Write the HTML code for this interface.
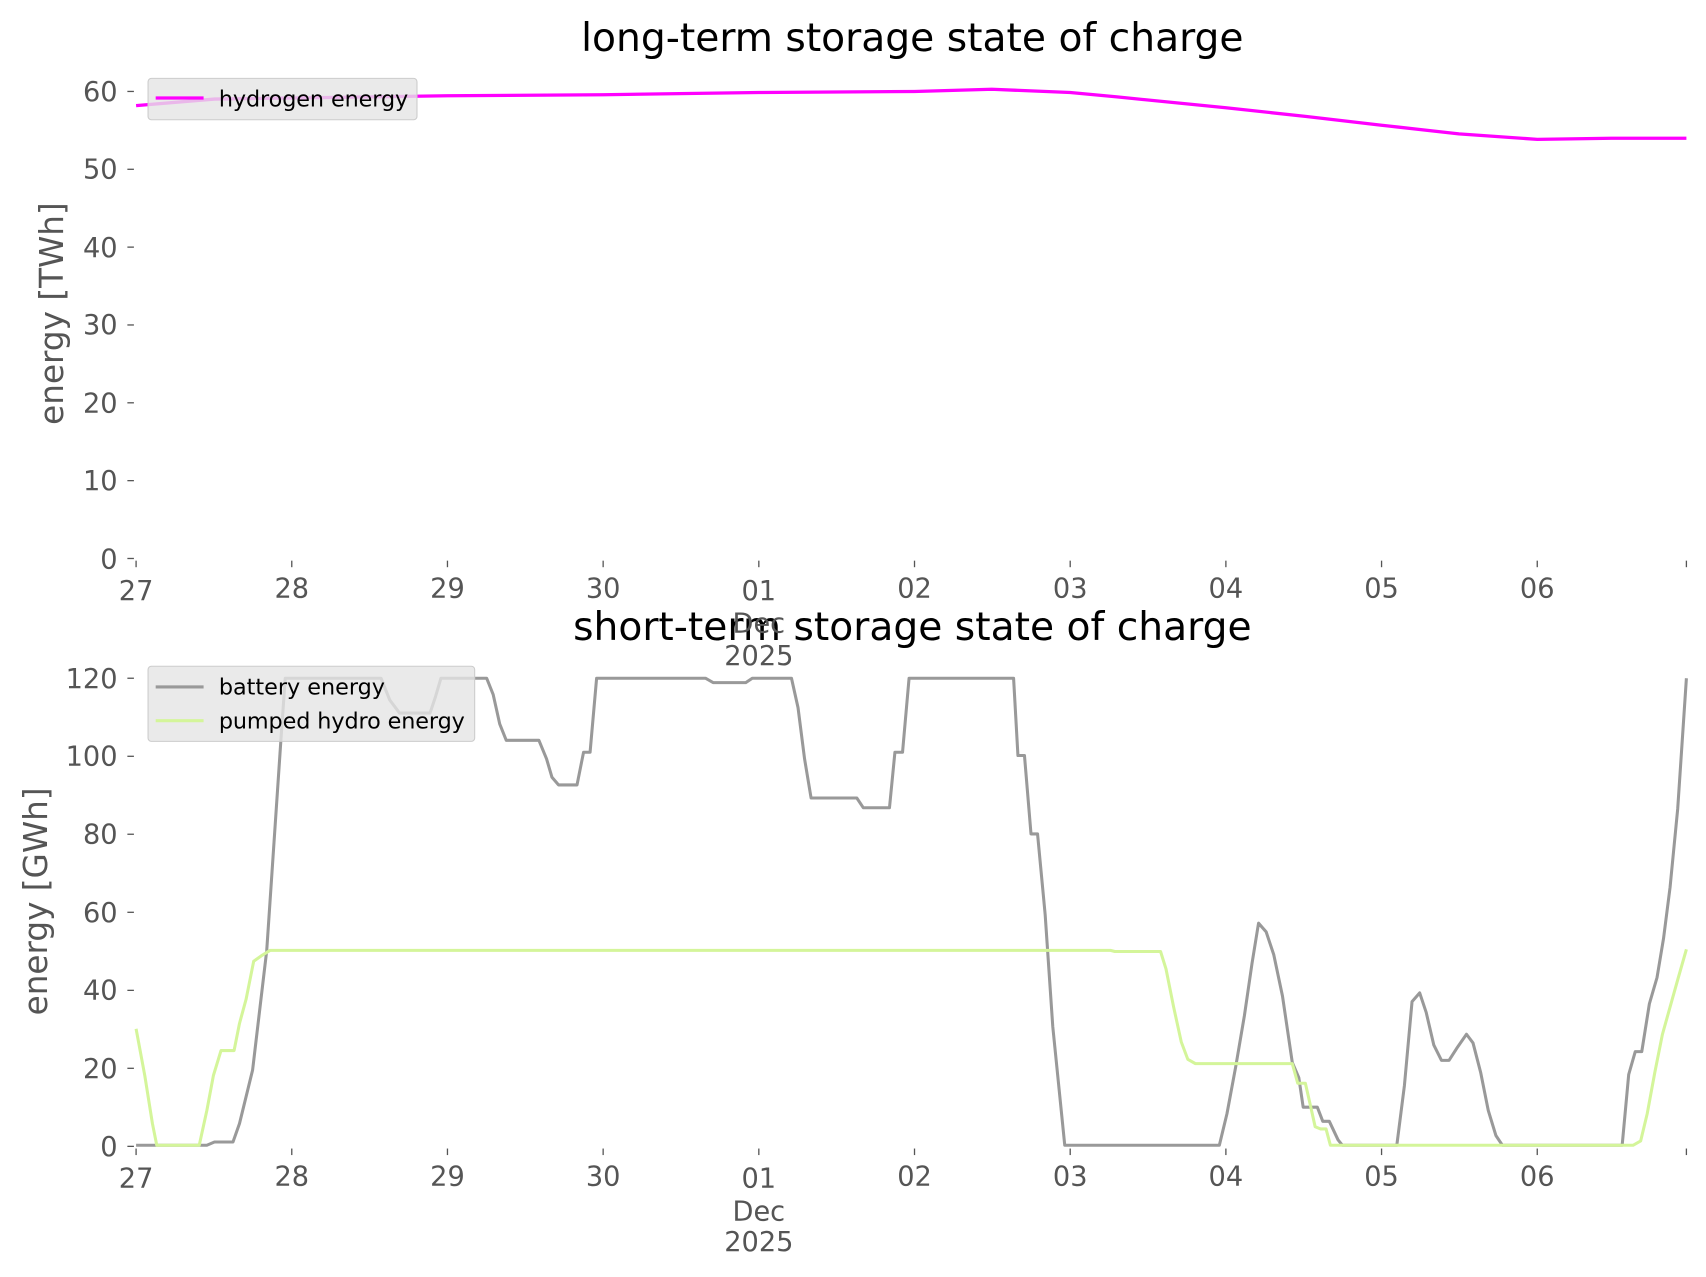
<!DOCTYPE html>
<html><head><meta charset="utf-8"><style>
html,body{margin:0;padding:0;background:#fff}
svg{display:block}
text{font-family:"DejaVu Sans","Liberation Sans",sans-serif}
.tk{fill:#555;font-size:25px}
.t{font-size:36px;fill:#000;text-anchor:middle}
</style></head><body>
<svg width="1706" height="1277" viewBox="0 0 1567 1173" preserveAspectRatio="none" xmlns="http://www.w3.org/2000/svg">
<rect width="1567" height="1173" fill="#fff"/>
<text class="t" x="838" y="47">long-term storage state of charge</text>
<text class="t" x="838" y="588">short-term storage state of charge</text>
<g class="tk" text-anchor="end" stroke="none">
<text x="108" y="522">0</text><text x="108" y="450">10</text><text x="108" y="379">20</text><text x="108" y="307">30</text><text x="108" y="236">40</text><text x="108" y="164">50</text><text x="108" y="93">60</text>
<text x="108" y="1062">0</text><text x="108" y="990">20</text><text x="108" y="918">40</text><text x="108" y="847">60</text><text x="108" y="775">80</text><text x="108" y="703">100</text><text x="108" y="632">120</text>
</g>
<g stroke="#555" stroke-width="1.2">
<line x1="117" x2="123" y1="513" y2="513"/><line x1="117" x2="123" y1="441.5" y2="441.5"/><line x1="117" x2="123" y1="370" y2="370"/><line x1="117" x2="123" y1="298.5" y2="298.5"/><line x1="117" x2="123" y1="227" y2="227"/><line x1="117" x2="123" y1="155.5" y2="155.5"/><line x1="117" x2="123" y1="84" y2="84"/>
<line x1="117" x2="123" y1="1053" y2="1053"/><line x1="117" x2="123" y1="981.3" y2="981.3"/><line x1="117" x2="123" y1="909.7" y2="909.7"/><line x1="117" x2="123" y1="838" y2="838"/><line x1="117" x2="123" y1="766.3" y2="766.3"/><line x1="117" x2="123" y1="694.7" y2="694.7"/><line x1="117" x2="123" y1="623" y2="623"/>
<line x1="125" x2="125" y1="515" y2="521"/><line x1="268" x2="268" y1="515" y2="521"/><line x1="411" x2="411" y1="515" y2="521"/><line x1="554" x2="554" y1="515" y2="521"/><line x1="697" x2="697" y1="515" y2="521"/><line x1="840" x2="840" y1="515" y2="521"/><line x1="983" x2="983" y1="515" y2="521"/><line x1="1126" x2="1126" y1="515" y2="521"/><line x1="1269" x2="1269" y1="515" y2="521"/><line x1="1412" x2="1412" y1="515" y2="521"/><line x1="1549" x2="1549" y1="515" y2="521"/>
<line x1="125" x2="125" y1="1055" y2="1061"/><line x1="268" x2="268" y1="1055" y2="1061"/><line x1="411" x2="411" y1="1055" y2="1061"/><line x1="554" x2="554" y1="1055" y2="1061"/><line x1="697" x2="697" y1="1055" y2="1061"/><line x1="840" x2="840" y1="1055" y2="1061"/><line x1="983" x2="983" y1="1055" y2="1061"/><line x1="1126" x2="1126" y1="1055" y2="1061"/><line x1="1269" x2="1269" y1="1055" y2="1061"/><line x1="1412" x2="1412" y1="1055" y2="1061"/><line x1="1549" x2="1549" y1="1055" y2="1061"/>
</g>
<g class="tk" text-anchor="middle">
<text x="125" y="551">27</text><text x="268" y="549">28</text><text x="411" y="549">29</text><text x="554" y="549">30</text><text x="697" y="551">01</text><text x="697" y="581">Dec</text><text x="697" y="611">2025</text><text x="840" y="549">02</text><text x="983" y="549">03</text><text x="1126" y="549">04</text><text x="1269" y="549">05</text><text x="1412" y="549">06</text>
<text x="125" y="1091">27</text><text x="268" y="1089">28</text><text x="411" y="1089">29</text><text x="554" y="1089">30</text><text x="697" y="1091">01</text><text x="697" y="1121">Dec</text><text x="697" y="1149">2025</text><text x="840" y="1089">02</text><text x="983" y="1089">03</text><text x="1126" y="1089">04</text><text x="1269" y="1089">05</text><text x="1412" y="1089">06</text>
</g>
<text transform="translate(58,288) rotate(-90)" text-anchor="middle" fill="#555" font-size="30">energy [TWh]</text>
<text transform="translate(43,828) rotate(-90)" text-anchor="middle" fill="#555" font-size="30">energy [GWh]</text>
<polyline fill="none" stroke="#ff00ff" stroke-width="3" points="125,97 197,91 268,90 411,88 554,87 697,85 840,84 911,82 983,85 1026,89 1126,99 1200,107 1269,115 1340,123 1412,128 1480,127 1549,127"/>
<polyline fill="none" stroke="#999" stroke-width="2.8" stroke-linejoin="round" points="125,1052 190,1052 197,1049 214,1049 220,1032 232,983 245,873 258,680 262,623 350,623 358,643 367,655 395,655 400,640 405,623 447,623 453,638 459,665 465,680 495,680 502,697 507,714 513,721 530,721 536,691 542,691 548,623 648,623 655,627 685,627 691,623 727,623 733,650 739,697 745,733 787,733 793,742 817,742 822,691 829,691 835,623 931,623 935,694 941,694 947,766 953,766 960,840 967,943 978,1052 1120,1052 1127,1023 1135,980 1143,933 1150,885 1156,848 1163,856 1170,877 1178,915 1187,976 1193,990 1197,1017 1210,1017 1215,1030 1221,1030 1229,1047 1233,1052 1283,1052 1290,997 1297,920 1304,912 1310,930 1317,960 1324,974 1331,974 1338,963 1347,950 1353,958 1360,985 1367,1020 1374,1043 1380,1052 1490,1052 1496,987 1502,966 1508,966 1515,922 1522,898 1528,862 1534,815 1541,743 1549,623"/>
<polyline fill="none" stroke="#d4f59a" stroke-width="2.8" stroke-linejoin="round" points="125,945 133,988 140,1032 144,1052 183,1052 190,1020 196,988 203,965 215,965 220,940 226,918 233,883 240,878 248,873 1020,873 1024,874 1066,874 1071,890 1078,925 1085,957 1091,973 1098,977 1187,977 1192,995 1199,995 1204,1017 1208,1035 1213,1037 1218,1037 1222,1052 1500,1052 1507,1048 1513,1023 1520,985 1527,950 1534,925 1541,900 1549,872"/>
<rect x="136" y="72" width="247" height="38" rx="3" fill="#e5e5e5" fill-opacity="0.8" stroke="#ccc"/>
<line x1="143" x2="187" y1="90" y2="90" stroke="#ff00ff" stroke-width="3"/>
<text x="201" y="98" font-size="20.5" fill="#000" textLength="174">hydrogen energy</text>
<rect x="136" y="612" width="300" height="69" rx="3" fill="#e5e5e5" fill-opacity="0.8" stroke="#ccc"/>
<line x1="143" x2="187" y1="631" y2="631" stroke="#999" stroke-width="2.8"/>
<text x="201" y="638" font-size="20.5" fill="#000">battery energy</text>
<line x1="143" x2="187" y1="662" y2="662" stroke="#d4f59a" stroke-width="2.8"/>
<text x="201" y="669" font-size="20.5" fill="#000" textLength="226">pumped hydro energy</text>
</svg>
</body></html>
